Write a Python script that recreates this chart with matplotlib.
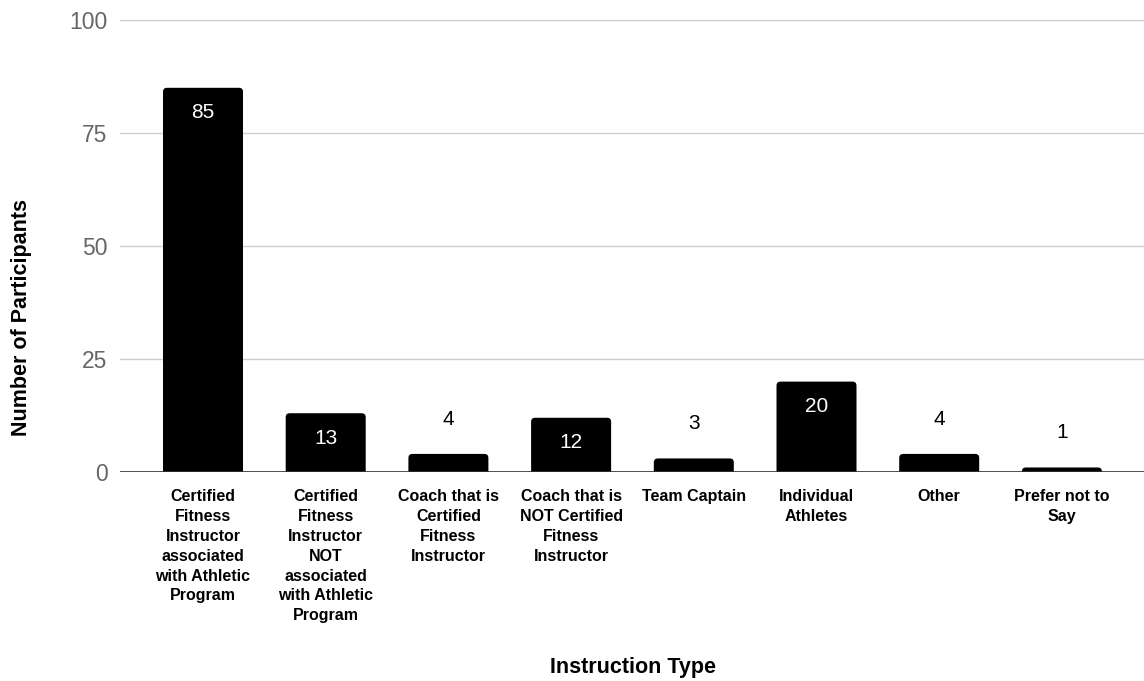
import matplotlib.pyplot as plt
from matplotlib.patches import FancyBboxPatch

plt.rcParams['font.family'] = ['Liberation Sans', 'DejaVu Sans']

categories = [
    "Certified\nFitness\nInstructor\nassociated\nwith Athletic\nProgram",
    "Certified\nFitness\nInstructor\nNOT\nassociated\nwith Athletic\nProgram",
    "Coach that is\nCertified\nFitness\nInstructor",
    "Coach that is\nNOT Certified\nFitness\nInstructor",
    "Team Captain",
    "Individual\nAthletes",
    "Other",
    "Prefer not to\nSay",
]
participants = [85, 13, 4, 12, 3, 20, 4, 1]
yticks = [0, 25, 50, 75, 100]

W, H = 1144, 681
fig = plt.figure(figsize=(W / 100, H / 100), dpi=100)
ax = fig.add_axes([120 / W, (H - 472) / H, 1024 / W, 452 / H])

px_x = 122.7   # pixels per category
px_y = 4.52    # pixels per participant
x0 = -83 / px_x
ax.set_xlim(x0, x0 + 1024 / px_x)
ax.set_ylim(0, 100)

bar_w = 80 / px_x
r = 4 / px_x  # corner radius in x units
for i, v in enumerate(participants):
    # start below zero so only the top corners show as rounded
    ry = r * px_x / px_y
    box = FancyBboxPatch((i - bar_w / 2, -ry), bar_w, v + ry,
                         boxstyle=f"round,pad=0,rounding_size={r}",
                         mutation_aspect=px_x / px_y,
                         facecolor='black', edgecolor='none', zorder=3)
    ax.add_patch(box)
    if v >= 10:
        ax.annotate(str(v), (i, v), xytext=(0, -11), textcoords='offset points',
                    ha='center', va='top', color='white', fontsize=15, zorder=4)
    else:
        ax.annotate(str(v), (i, v), xytext=(0, 18), textcoords='offset points',
                    ha='center', va='bottom', color='black', fontsize=15, zorder=4)

ax.set_yticks(yticks)
ax.set_yticklabels([str(t) for t in yticks], fontsize=16.5, color='#666666')
ax.grid(axis='y', color='#cccccc', linewidth=1)
ax.set_axisbelow(True)
ax.axhline(0, color='#333333', linewidth=1.2, zorder=5)
for s in ax.spines.values():
    s.set_visible(False)
ax.tick_params(axis='y', length=0, pad=9)
ax.tick_params(axis='x', length=0, pad=12.5)

ax.set_xticks(range(len(categories)))
ax.set_xticklabels(categories, fontsize=11.5, fontweight='bold', linespacing=1.4,
                   va='top')

fig.text(633 / W, 1 - 668 / H, "Instruction Type", ha='center', va='center',
         fontsize=15.5, fontweight='bold')
fig.text(22 / W, 1 - 317 / H, "Number of Participants", ha='center', va='center',
         rotation=90, fontsize=15.5, fontweight='bold')

fig.savefig("out.png", dpi=100)
